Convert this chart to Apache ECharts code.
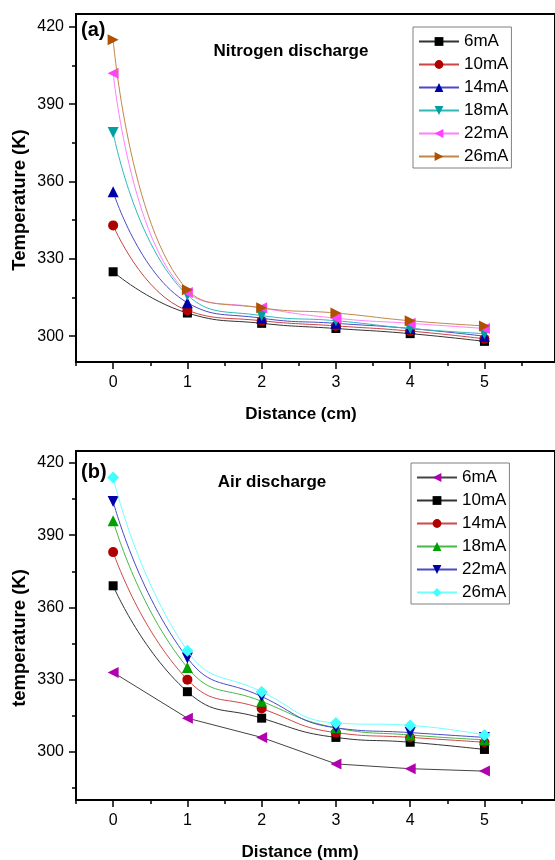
<!DOCTYPE html>
<html>
<head>
<meta charset="utf-8">
<script src="https://cdn.jsdelivr.net/npm/echarts@6/dist/echarts.min.js"></script>
<style>html,body{margin:0;padding:0;background:#fff}#c{width:555px;height:860px}</style>
</head>
<body>
<div id="c"></div>
<script>
// ---- data ----
const distance = [0, 1, 2, 3, 4, 5];
const currents = ['6mA', '10mA', '14mA', '18mA', '22mA', '26mA'];
const xTickLabels = [0, 1, 2, 3, 4, 5];
const yTickLabels = [300, 330, 360, 390, 420];

// (a) Nitrogen discharge
const n2_6mA  = [325, 309, 305, 303, 301, 298];
const n2_10mA = [343, 310, 306, 304, 302, 299];
const n2_14mA = [356, 313, 307, 305, 303, 300];
const n2_18mA = [379, 316, 308, 306, 303, 301];
const n2_22mA = [402, 317, 311, 307, 305, 303];
const n2_26mA = [415, 318, 311, 309, 306, 304];

// (b) Air discharge
const air_6mA  = [333, 314, 306, 295, 293, 292];
const air_10mA = [369, 325, 314, 306, 304, 301];
const air_14mA = [383, 330, 318, 308, 306, 304];
const air_18mA = [396, 335, 321, 310, 307, 305];
const air_22mA = [404, 339, 323, 310, 308, 306];
const air_26mA = [414, 342, 325, 312, 311, 307];

const FONT = "'Liberation Sans', Arial, sans-serif";
const pts = arr => distance.map((x, i) => [x, arr[i]]);

// series styles
const stylesA = [
  {sym: 'rect', size: 9, rot: 0, mc: '#000000', lc: '#333333'},
  {sym: 'circle', size: 10, rot: 0, mc: '#b00000', lc: '#cc4444'},
  {sym: 'triangle', size: 11, rot: 0, mc: '#0000a8', lc: '#4a4ac8'},
  {sym: 'triangle', size: 11, rot: 180, mc: '#00a0a0', lc: '#30b8b8'},
  {sym: 'triangle', size: 11, rot: 90, mc: '#ff40ff', lc: '#ff80ff'},
  {sym: 'triangle', size: 11, rot: -90, mc: '#b05000', lc: '#c08848'}
];
const stylesB = [
  {sym: 'triangle', size: 11, rot: 90, mc: '#b000b0', lc: '#444444'},
  {sym: 'rect', size: 9, rot: 0, mc: '#000000', lc: '#333333'},
  {sym: 'circle', size: 10, rot: 0, mc: '#b00000', lc: '#d04848'},
  {sym: 'triangle', size: 11, rot: 0, mc: '#00a000', lc: '#48b848'},
  {sym: 'triangle', size: 11, rot: 180, mc: '#0000a8', lc: '#4a4ac8'},
  {sym: 'diamond', size: 12, rot: 0, mc: '#40ffff', lc: '#70ffff'}
];
const dataA = [n2_6mA, n2_10mA, n2_14mA, n2_18mA, n2_22mA, n2_26mA];
const dataB = [air_6mA, air_10mA, air_14mA, air_18mA, air_22mA, air_26mA];

function makeSeries(prefix, datas, styles, xi, yi, smoothFlags) {
  return datas.map((d, i) => ({
    name: prefix + currents[i],
    type: 'line',
    xAxisIndex: xi, yAxisIndex: yi,
    data: pts(d),
    smooth: smoothFlags[i],
    symbol: styles[i].sym,
    symbolSize: styles[i].size,
    symbolRotate: styles[i].rot,
    showAllSymbol: true,
    lineStyle: {color: styles[i].lc, width: 1},
    itemStyle: {color: styles[i].mc, borderWidth: 0},
    z: 2 + i
  }));
}

function xAxes(gridIndex) {
  return [
    {
      gridIndex, type: 'value', position: 'bottom', min: -0.5, max: 5.95,
      axisLine: {show: true, onZero: false, lineStyle: {color: '#000', width: 2}},
      axisTick: {show: true, inside: false, length: 7, lineStyle: {color: '#000', width: 1.5}, customValues: xTickLabels},
      axisLabel: {show: true, customValues: xTickLabels, margin: 13, color: '#000', fontSize: 16, fontFamily: FONT},
      splitLine: {show: false}
    },
    {
      gridIndex, type: 'value', position: 'bottom', min: -0.5, max: 5.95,
      axisLine: {show: false, onZero: false},
      axisTick: {show: true, inside: false, length: 4, lineStyle: {color: '#000', width: 1.5},
        customValues: [-0.5, 0.5, 1.5, 2.5, 3.5, 4.5, 5.5]},
      axisLabel: {show: false},
      splitLine: {show: false}
    }
  ];
}
function yAxes(gridIndex, min, max, minors) {
  return [
    {
      gridIndex, type: 'value', position: 'left', min, max,
      axisLine: {show: true, onZero: false, lineStyle: {color: '#000', width: 2}},
      axisTick: {show: true, inside: false, length: 7, lineStyle: {color: '#000', width: 1.5}, customValues: yTickLabels},
      axisLabel: {show: true, customValues: yTickLabels, margin: 12, color: '#000', fontSize: 16, fontFamily: FONT},
      splitLine: {show: false}
    },
    {
      gridIndex, type: 'value', position: 'left', min, max,
      axisLine: {show: false, onZero: false},
      axisTick: {show: true, inside: false, length: 4, lineStyle: {color: '#000', width: 1.5}, customValues: minors},
      axisLabel: {show: false},
      splitLine: {show: false}
    }
  ];
}

function legend(prefix, top, left) {
  return {
    orient: 'vertical',
    left, top,
    data: currents.map(c => prefix + c),
    formatter: name => name.slice(1),
    itemWidth: 40, itemHeight: 11, itemGap: 6,
    padding: [6, 3, 3, 5],
    borderColor: '#808080', borderWidth: 1,
    backgroundColor: '#fff',
    textStyle: {fontSize: 17, fontFamily: FONT, color: '#000', lineHeight: 17},
    symbolRotate: 'inherit',
    selectedMode: false
  };
}

function label(text, x, y, size, opts) {
  return Object.assign({
    type: 'text', x, y, z: 100,
    style: {text, font: 'bold ' + size + 'px ' + FONT, fill: '#000',
      textAlign: (opts && opts.align) || 'center', textVerticalAlign: 'middle'}
  }, opts && opts.rot ? {rotation: opts.rot} : {});
}

const chart = echarts.init(document.getElementById('c'), null, {renderer: 'canvas'});
chart.setOption({
  animation: false,
  backgroundColor: '#fff',
  grid: [
    {left: 76, top: 14, right: -3, height: 348, show: true, borderColor: '#000', borderWidth: 2, backgroundColor: 'transparent'},
    {left: 76, top: 451, right: -3, height: 349, show: true, borderColor: '#000', borderWidth: 2, backgroundColor: 'transparent'}
  ],
  xAxis: [...xAxes(0), ...xAxes(1)],
  yAxis: [...yAxes(0, 290, 425, [315, 345, 375, 405]), ...yAxes(1, 280, 425, [285, 315, 345, 375, 405])],
  legend: [legend('a', 27, 413), legend('b', 463, 411)],
  series: [
    ...makeSeries('a', dataA, stylesA, 0, 0, [true, true, true, true, true, true]),
    ...makeSeries('b', dataB, stylesB, 2, 2, [false, true, true, true, true, true])
  ],
  graphic: [
    label('(a)', 81, 30, 20, {align: 'left'}),
    label('Nitrogen discharge', 291, 51, 17),
    label('Temperature (K)', 20, 200, 18.5, {rot: Math.PI / 2}),
    label('Distance (cm)', 301, 414, 17),
    label('(b)', 81, 472, 20, {align: 'left'}),
    label('Air discharge', 272, 482, 17),
    label('temperature (K)', 20, 638, 18.5, {rot: Math.PI / 2}),
    label('Distance (mm)', 300, 852, 17)
  ]
});
</script>
</body>
</html>
